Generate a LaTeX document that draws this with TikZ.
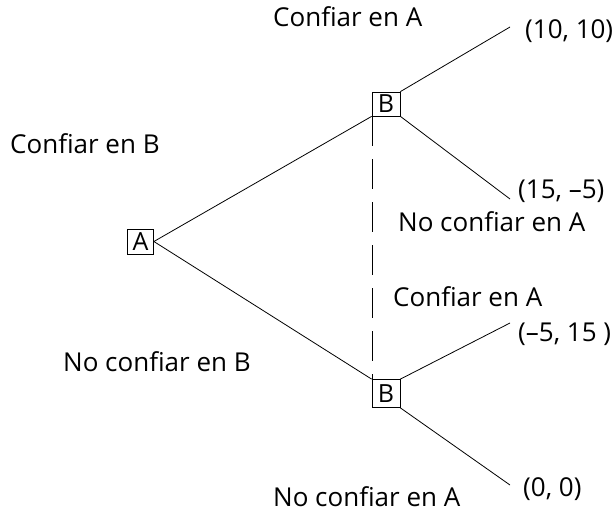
\documentclass[tikz,border=0pt]{standalone}
\usepackage{fontspec}
\setmainfont{Open Sans}
\begin{document}
\begin{tikzpicture}[x=1pt,y=1pt,
  lbl/.style={anchor=base west, inner sep=0pt, font=\fontsize{26}{30}\selectfont},
  player/.style={draw, line width=0.8pt, minimum width=26pt, minimum height=25pt, inner sep=0pt, font=\fontsize{25}{28}\selectfont},
  edge/.style={line width=0.8pt},
  info/.style={line width=0.8pt, dash pattern=on 30pt off 13pt}]
\useasboundingbox (0,0) rectangle (615,-511);
% decision nodes
\node[player] (A)  at (140.5,-241.5) {A};
\node[player, minimum width=28pt, minimum height=24pt] (B1) at (386,-104) {B};
\node[player, minimum width=28pt, minimum height=28pt] (B2) at (386,-393.5) {B};
% terminal points
\coordinate (T1) at (510,-27);
\coordinate (T2) at (510,-199);
\coordinate (T3) at (510,-323);
\coordinate (T4) at (510,-485);
% branches
\draw[edge] (A.east) -- (B1.south west);
\draw[edge] (A.east) -- (B2.north west);
\draw[edge] (B1.north east) -- (T1);
\draw[edge] (B1.south east) -- (T2);
\draw[edge] (B2.north east) -- (T3);
\draw[edge] (B2.south east) -- (T4);
% information set
\draw[info] ([xshift=1pt]B1.south west) -- ([xshift=1pt]B2.north west);
% payoffs
\node[lbl] (p1) at (525,-38) {(10, 10)};
\node[lbl] (p2) at (518,-198) {(15, –5)};
\node[lbl] (p3) at (518,-341) {(–5, 15 )};
\node[lbl] (p4) at (523,-496) {(0, 0)};
% action labels
\node[lbl] (l1) at (273,-27) {Confiar en A};
\node[lbl] (l2) at (10,-153) {Confiar en B};
\node[lbl] (l3) at (398,-231) {No confiar en A};
\node[lbl] (l4) at (393,-306) {Confiar en A};
\node[lbl] (l5) at (63,-371) {No confiar en B};
\node[lbl] (l6) at (273,-506) {No confiar en A};
\end{tikzpicture}
\end{document}
